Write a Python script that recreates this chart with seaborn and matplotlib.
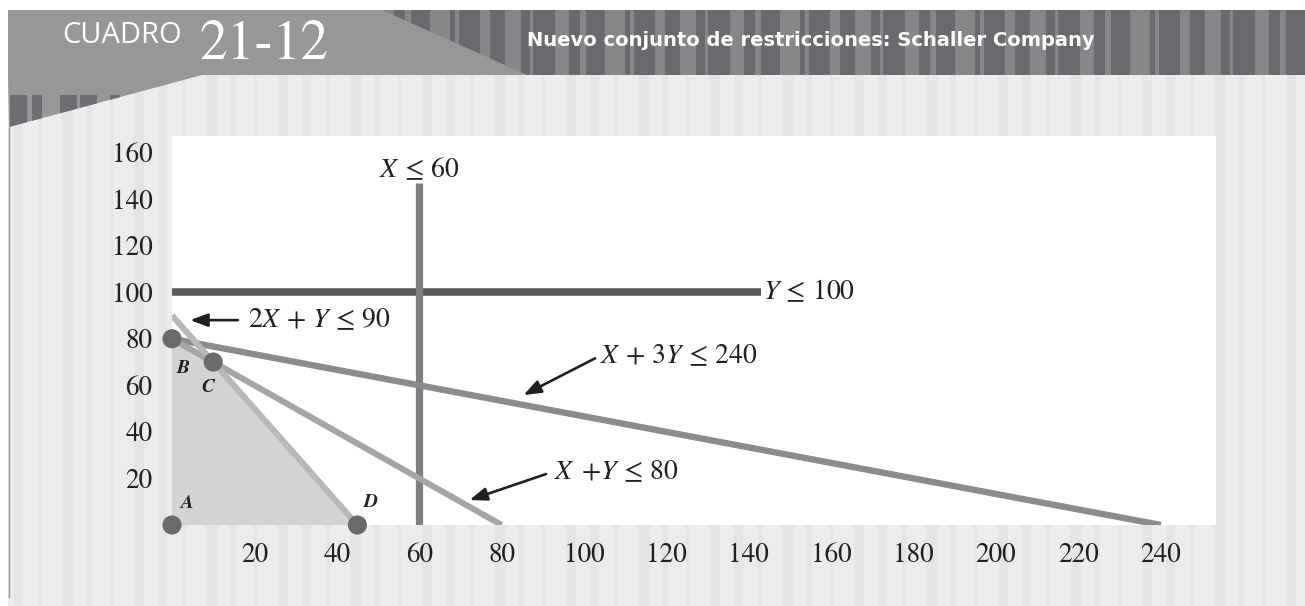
import numpy as np
import pandas as pd
import seaborn as sns
import matplotlib.pyplot as plt
from matplotlib.patches import Polygon, Rectangle

# vertices of the feasible region
corner_labels = ['A', 'B', 'C', 'D']
corner_x = [0, 0, 10, 45]
corner_y = [0, 80, 70, 0]

# constraint lines (start, end)
constraint_names = ['Y ≤ 100', 'X ≤ 60', 'X + 3Y ≤ 240', 'X + Y ≤ 80', '2X + Y ≤ 90']
constraint_x = [[0, 143], [60, 60], [0, 240], [0, 80], [0, 45]]
constraint_y = [[100, 100], [0, 147], [80, 0], [80, 0], [90, 0]]

x_ticks = [20, 40, 60, 80, 100, 120, 140, 160, 180, 200, 220, 240]
y_ticks = [20, 40, 60, 80, 100, 120, 140, 160]

title_box = 'CUADRO'
title_num = '21-12'
title_text = 'Nuevo conjunto de restricciones: Schaller Company'

line_colors = {'Y ≤ 100': '#59595b', 'X ≤ 60': '#7f7f83', 'X + 3Y ≤ 240': '#8b8b8f',
               'X + Y ≤ 80': '#a5a5a8', '2X + Y ≤ 90': '#b8b8ba'}
line_widths = {'Y ≤ 100': 5.4, 'X ≤ 60': 5.2, 'X + 3Y ≤ 240': 4.6,
               'X + Y ≤ 80': 4.4, '2X + Y ≤ 90': 4.4}

sns.set_theme(style='white')
plt.rcParams['font.family'] = ['STIXGeneral', 'DejaVu Serif']
plt.rcParams['mathtext.fontset'] = 'stix'
ink = '#231f20'

W, H = 1305, 606
fig = plt.figure(figsize=(W / 100, H / 100), dpi=100, facecolor='white')

# ---- fondo decorativo (coordenadas en pixeles) ----
bg = fig.add_axes([0, 0, 1, 1], zorder=-5)
bg.set_xlim(0, W)
bg.set_ylim(H, 0)
bg.axis('off')
bg.add_patch(Rectangle((8, 10), W - 8, H - 10, color='#ececed', lw=0))
widths = [9, 4, 12, 6, 3, 10]
for i, sx in enumerate(np.arange(14, W, 24)):
    bg.add_patch(Rectangle((sx, 75), widths[i % 6], H - 75, color='#e5e5e7', lw=0))

bg.add_patch(Rectangle((8, 10), W - 8, 65, color='#6a6a6e', lw=0))
hw = [14, 6, 20, 4, 10, 16, 3]
for i, sx in enumerate(np.arange(380, W, 25)):
    bg.add_patch(Rectangle((sx, 10), hw[i % 7], 65, color='#87878a', lw=0))
bg.add_patch(Polygon([(8, 10), (382, 10), (527, 75), (8, 75)], closed=True, color='#97979a', lw=0))
tri = Polygon([(8, 75), (202, 75), (9, 127)], closed=True, color='#97979a', lw=0)
bg.add_patch(tri)
for sx, sw in [(10, 17), (32, 10), (60, 17), (80, 17), (110, 10), (137, 11), (152, 11), (170, 15)]:
    r = Rectangle((sx, 95), sw, 35, color='#6e6e72', lw=0)
    bg.add_patch(r)
    r.set_clip_path(tri)
bg.plot([8.5, 8.5], [127, 597], color='#9a9a9c', lw=1)

bg.text(62, 43, title_box, color='white', fontsize=21, family=['Open Sans', 'DejaVu Sans'],
        ha='left', va='baseline')
bg.text(199, 59, title_num, color='white', fontsize=40, family='STIXGeneral',
        ha='left', va='baseline')
bg.text(527, 46, title_text, color='white', fontsize=14, weight='bold',
        family=['DejaVu Sans'], ha='left', va='baseline')

# ---- grafico ----
x0, x1, y0, y1 = 172, 1216, 136, 525
ax = fig.add_axes([x0 / W, 1 - y1 / H, (x1 - x0) / W, (y1 - y0) / H])
ax.set_facecolor('white')
ax.set_xlim(0, (x1 - x0) / 4.12)
ax.set_ylim(0, (y1 - y0) / 2.328)

ax.fill(corner_x, corner_y, color='#d3d3d5', lw=0, zorder=1)

for name, xs, ys in zip(constraint_names, constraint_x, constraint_y):
    df = pd.DataFrame({'x': xs, 'y': ys})
    sns.lineplot(data=df, x='x', y='y', ax=ax, color=line_colors[name],
                 linewidth=line_widths[name], estimator=None, sort=False,
                 solid_capstyle='butt', zorder=2)

sns.scatterplot(x=corner_x, y=corner_y, ax=ax, s=190, color='#6a6a6d',
                edgecolor='none', zorder=5, clip_on=False)

offsets = {'A': (10.5, 16), 'B': (8, -21), 'C': (-3.5, -18), 'D': (10, 16.5)}
for lab, cx, cy in zip(corner_labels, corner_x, corner_y):
    ax.annotate(lab, (cx, cy), xytext=offsets[lab], textcoords='offset points',
                ha='center', va='center', fontsize=14, style='italic', weight='bold',
                color=ink, zorder=6, annotation_clip=False)

fs = 20
ax.text(60, 149.5, r'$X\,\leq\,60$', fontsize=fs, ha='center', va='baseline', color=ink)
ax.text(143.5, 97, r'$Y\,\leq\,100$', fontsize=fs, ha='left', va='baseline', color=ink)
ax.text(18.5, 84.9, r'$2X\,+\,Y\,\leq\,90$', fontsize=fs, ha='left', va='baseline', color=ink)
ax.text(103.9, 69.7, r'$X\,+\,3Y\,\leq\,240$', fontsize=fs, ha='left', va='baseline', color=ink)
ax.text(92.6, 19.6, r'$X\ \,{+}Y\,\leq\,80$', fontsize=fs, ha='left', va='baseline', color=ink)

arrow = dict(arrowstyle='-|>,head_length=0.75,head_width=0.28', color=ink, lw=1.9,
             mutation_scale=14, shrinkA=0, shrinkB=0)
for tail, tip in [((16.0, 88.0), (4.4, 88.0)), ((102.7, 71.6), (85.3, 55.8)),
                  ((90.8, 21.9), (72.2, 10.7))]:
    ax.annotate('', xy=tip, xytext=tail, arrowprops=arrow, zorder=6)

ax.set_xticks(x_ticks)
ax.set_yticks(y_ticks)
ax.set_xticklabels([str(v) for v in x_ticks])
ax.set_yticklabels([str(v) for v in y_ticks])
ax.tick_params(axis='both', length=0, labelsize=19.5, labelcolor=ink)
ax.tick_params(axis='y', pad=14)
ax.tick_params(axis='x', pad=13)
ax.set_xlabel('')
ax.set_ylabel('')
sns.despine(ax=ax, left=True, bottom=True)

fig.savefig('out.png', dpi=100, facecolor='white')
